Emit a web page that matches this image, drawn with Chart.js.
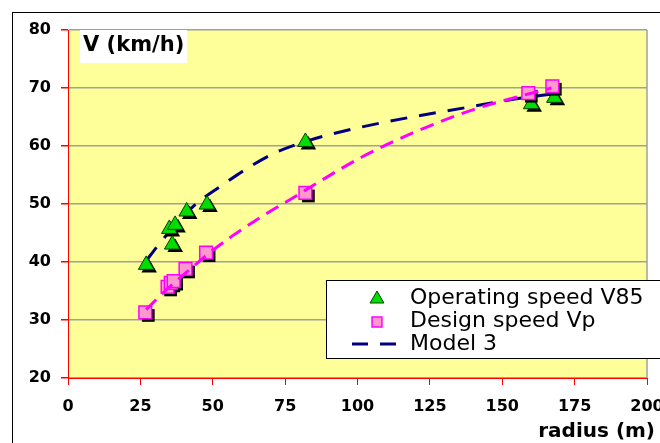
<!DOCTYPE html>
<html>
<head>
<meta charset="utf-8">
<script src="https://cdn.jsdelivr.net/npm/chart.js@4.4.0/dist/chart.umd.min.js"></script>
<style>
  html, body { margin: 0; padding: 0; overflow: hidden; background: #fff; }
  canvas { display: block; }
</style>
</head>
<body>
<canvas id="speedChart" width="700" height="460"></canvas>
<script>
// measured points
const radiusV85 = [27, 35, 36, 37, 41, 48, 82, 160, 168];
const speedV85 = [39.5, 45.7, 43, 46.4, 48.7, 49.9, 60.7, 67.2, 68.3];

const radiusVp = [26.7, 34.4, 35.5, 36.5, 40.6, 47.7, 82, 159, 167.3];
const speedVp = [31.3, 35.7, 36.4, 36.7, 38.8, 41.6, 51.9, 69.1, 70.3];

// model 3 curve
const modelRadius = [27, 31, 35, 40, 45.4, 53.4, 61.5, 70.6, 82.2, 98.1, 117.7, 137.2, 155.6, 168];
const modelSpeed = [40.2, 42.8, 45.2, 48, 50.5, 53.3, 56, 58.6, 60.8, 62.9, 64.9, 66.6, 68.2, 69];

// pink trend through design speeds
const fitRadius = [27, 32.3, 35.1, 43, 48.2, 56.8, 67.1, 77.5, 87.3, 101.5, 121.2, 140.7, 151, 167];
const fitSpeed = [31.8, 34.4, 35.7, 39.1, 41.3, 44.5, 47.9, 51, 54, 58.1, 62.7, 66.4, 67.9, 70];

const xTicks = [0, 25, 50, 75, 100, 125, 150, 175, 200];
const yTicks = [20, 30, 40, 50, 60, 70, 80];

const legendLabels = ['Operating speed V85', 'Design speed Vp', 'Model 3'];

const toPoints = (xs, ys) => xs.map((x, i) => ({ x: x, y: ys[i] }));

function triangle(ctx, x, y, r) {
    ctx.beginPath();
    ctx.moveTo(x, y - r);
    ctx.lineTo(x + 0.866 * r, y + 0.5 * r);
    ctx.lineTo(x - 0.866 * r, y + 0.5 * r);
    ctx.closePath();
}

function square(ctx, x, y, r) {
    const s = Math.SQRT1_2 * r;
    ctx.beginPath();
    ctx.rect(x - s, y - s, 2 * s, 2 * s);
}

const backdrop = {
    id: 'backdrop',
    beforeDraw(chart) {
        const { ctx, chartArea: a } = chart;
        ctx.save();
        ctx.fillStyle = '#fff';
        ctx.fillRect(0, 0, chart.width, chart.height);
        ctx.strokeStyle = '#000';
        ctx.lineWidth = 1;
        ctx.strokeRect(12.5, 12.5, chart.width, chart.height);
        ctx.fillStyle = '#ffff99';
        ctx.fillRect(a.left, a.top, a.right - a.left, a.bottom - a.top);
        ctx.strokeStyle = '#a0a0a0';
        ctx.lineWidth = 1.5;
        ctx.beginPath();
        ctx.moveTo(a.right, a.top);
        ctx.lineTo(a.right, a.bottom);
        ctx.stroke();
        ctx.restore();
    }
};

// black drop shadow under the markers
const shadows = {
    id: 'shadows',
    beforeDatasetDraw(chart, args) {
        const ds = chart.data.datasets[args.index];
        if (!ds.shadow) return;
        const ctx = chart.ctx;
        ctx.save();
        ctx.fillStyle = '#000';
        for (const p of args.meta.data) {
            if (ds.pointStyle === 'triangle') triangle(ctx, p.x + 3, p.y + 3, ds.pointRadius);
            else square(ctx, p.x + 3, p.y + 3, ds.pointRadius);
            ctx.fill();
        }
        ctx.restore();
    }
};

const labels = {
    id: 'labels',
    afterDraw(chart) {
        const ctx = chart.ctx;
        ctx.save();

        // axis titles
        ctx.fillStyle = '#fff';
        ctx.fillRect(80, 30, 107, 33);
        ctx.fillStyle = '#000';
        ctx.font = 'bold 21px "DejaVu Sans"';
        ctx.textBaseline = 'alphabetic';
        ctx.textAlign = 'left';
        ctx.fillText('V (km/h)', 83, 51);

        ctx.font = 'bold 20px "DejaVu Sans"';
        ctx.textAlign = 'right';
        ctx.fillText('radius (m)', 655, 437);

        // legend
        ctx.fillStyle = '#fff';
        ctx.fillRect(326, 280, 400, 78);
        ctx.strokeStyle = '#000';
        ctx.lineWidth = 1;
        ctx.strokeRect(326.5, 280.5, 400, 78);

        ctx.fillStyle = '#00dd00';
        ctx.strokeStyle = '#004000';
        triangle(ctx, 377, 299, 8);
        ctx.fill();
        ctx.stroke();

        ctx.fillStyle = '#ff99cc';
        ctx.strokeStyle = '#ff00ff';
        ctx.lineWidth = 1.5;
        square(ctx, 377, 322, 7);
        ctx.fill();
        ctx.stroke();

        ctx.strokeStyle = '#000080';
        ctx.lineWidth = 3;
        ctx.setLineDash([16, 12]);
        ctx.beginPath();
        ctx.moveTo(352, 344);
        ctx.lineTo(398, 344);
        ctx.stroke();
        ctx.setLineDash([]);

        ctx.fillStyle = '#000';
        ctx.font = '22px "DejaVu Sans"';
        ctx.textAlign = 'left';
        ctx.textBaseline = 'middle';
        legendLabels.forEach((t, i) => ctx.fillText(t, 410, 298 + i * 23));

        ctx.restore();
    }
};

const tickFont = { family: 'DejaVu Sans', weight: 'bold', size: 16 };

const ctx = document.getElementById('speedChart').getContext('2d');
const speedChart = new Chart(ctx, {
    type: 'scatter',
    data: {
        datasets: [
            {
                label: legendLabels[2],
                type: 'line',
                data: toPoints(modelRadius, modelSpeed),
                borderColor: '#000080',
                borderWidth: 3,
                borderDash: [17, 12],
                pointRadius: 0,
                cubicInterpolationMode: 'monotone',
                fill: false,
                order: 4
            },
            {
                label: legendLabels[0],
                data: toPoints(radiusV85, speedV85),
                pointStyle: 'triangle',
                pointRadius: 9,
                pointHoverRadius: 9,
                backgroundColor: '#00dd00',
                borderColor: '#004000',
                borderWidth: 1,
                shadow: true,
                order: 3
            },
            {
                label: legendLabels[1],
                data: toPoints(radiusVp, speedVp),
                pointStyle: 'rect',
                pointRadius: 9,
                pointHoverRadius: 9,
                backgroundColor: '#ff99cc',
                borderColor: '#ff00ff',
                borderWidth: 1.5,
                shadow: true,
                order: 2
            },
            {
                label: 'trend',
                type: 'line',
                data: toPoints(fitRadius, fitSpeed),
                borderColor: '#ff00ff',
                borderWidth: 3,
                borderDash: [14, 8],
                pointRadius: 0,
                cubicInterpolationMode: 'monotone',
                fill: false,
                order: 1
            }
        ]
    },
    options: {
        responsive: false,
        animation: false,
        layout: { padding: { left: 12, top: 30, right: 53, bottom: 0 } },
        plugins: {
            legend: { display: false },
            tooltip: { enabled: false }
        },
        scales: {
            x: {
                type: 'linear',
                min: 0,
                max: 200,
                afterBuildTicks: (s) => { s.ticks = xTicks.map(v => ({ value: v })); },
                afterFit: (s) => { s.height = 82; },
                grid: { drawOnChartArea: false, tickColor: '#ff0000', tickLength: 7, lineWidth: 1 },
                border: { color: '#ff0000', width: 1 },
                ticks: { font: tickFont, color: '#000', padding: 12, maxRotation: 0 }
            },
            y: {
                type: 'linear',
                min: 20,
                max: 80,
                afterBuildTicks: (s) => { s.ticks = yTicks.map(v => ({ value: v })); },
                afterFit: (s) => { s.width = 56; },
                grid: { color: '#a0a0a0', lineWidth: 1.5, tickColor: '#ff0000', tickLength: 7 },
                border: { color: '#ff0000', width: 1 },
                ticks: { font: tickFont, color: '#000', padding: 10 }
            }
        }
    },
    plugins: [backdrop, shadows, labels]
});
</script>
</body>
</html>
